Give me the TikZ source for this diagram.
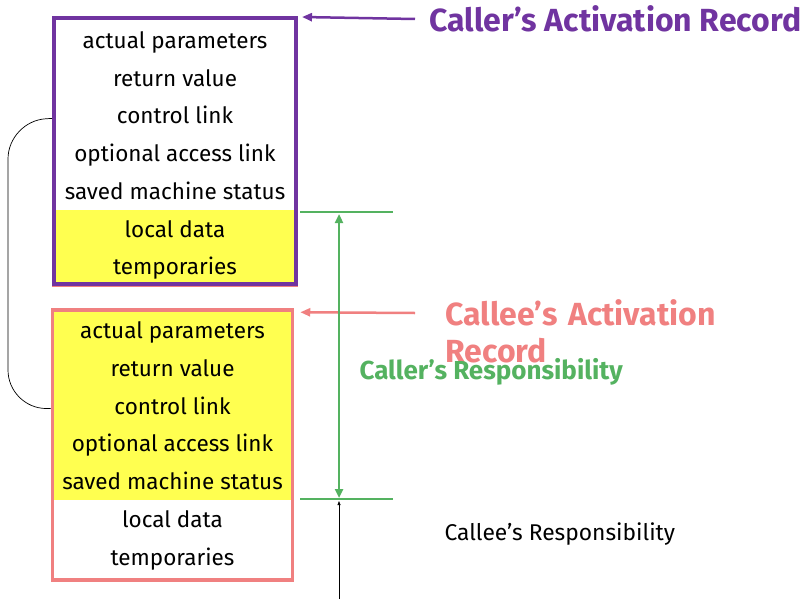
\documentclass[tikz,border=0pt]{standalone}
\usepackage{fontspec}
\setmainfont{Fira Sans}
\usetikzlibrary{arrows.meta,calc}
\definecolor{recpurple}{RGB}{112,52,160}
\definecolor{recpink}{RGB}{240,128,128}
\definecolor{resgreen}{RGB}{84,178,96}
\definecolor{slotyellow}{RGB}{255,255,80}

\begin{document}
\begin{tikzpicture}[x=1pt,y=-1pt,
  slot/.style={font=\fontsize{22.5}{26}\selectfont, anchor=center, text height=15pt, text depth=4pt},
  recbox/.style={draw, line width=4pt, minimum width=#1, inner sep=0pt},
  arrtip/.style={-{Triangle[length=10pt,width=8pt]}},
  biglabel/.style={font=\fontsize{32}{37}\selectfont\bfseries, anchor=west, align=left}]
\useasboundingbox (0,0) rectangle (802,599);

% yellow parts of the two records
\fill[slotyellow] (55,210) rectangle (294,284);
\fill[slotyellow] (54,311) rectangle (291,500);

% the two records
\node[recbox=243pt, minimum height=267pt, draw=recpink, line width=3pt] at (175,152) {};
\node[recbox=242pt, minimum height=266pt, draw=recpurple] (caller) at (175,151) {};
\node[recbox=240pt, minimum height=270pt, draw=recpink, line width=3.5pt] (callee) at (172.5,445) {};

% slots of the records
\foreach \txt [count=\i] in {actual parameters,return value,control link,optional access link,saved machine status,local data,temporaries}{
  \node[slot] (cr\i) at (175,43+37.7*\i-37.7) {\txt};
  \node[slot] (ce\i) at (172.5,333+37.8*\i-37.8) {\txt};
}

% control link
\draw[rounded corners=38pt, line width=0.7pt] (caller.west |- cr3) -- (8,121) -- (8,408) -- (callee.west |- ce3);

% labels of the records
\node[biglabel, text=recpurple] (callerlbl) at (426,19) {Caller’s Activation Record};
\node[biglabel, text=recpink, text width=330pt] (calleelbl) at (442,331) {Callee’s Activation\\Record};
\draw[recpurple, line width=2.5pt, arrtip] (callerlbl.west) ++(-11,0) -- ($(caller.north east)+(4,1)$);
\draw[recpink, line width=2.5pt, arrtip] (415,313) -- ($(callee.north east)+(6,4)$);

% responsibilities
\coordinate (g1) at (300,212);
\coordinate (g2) at (393,212);
\coordinate (g3) at (300,499);
\coordinate (g4) at (393,499);
\coordinate (gtop) at (339,214);
\coordinate (gbot) at (339,498);
\coordinate (floor) at (339,599);
\draw[resgreen, line width=2.5pt] (g1) -- (g2);
\draw[resgreen, line width=2.5pt] (g3) -- (g4);
\draw[resgreen, line width=2.5pt, {Triangle[length=9pt,width=8pt]}-{Triangle[length=9pt,width=8pt]}] (gtop) -- (gbot);
\draw[line width=0.7pt, -{Triangle[length=4pt,width=3pt]}] (floor) -- (339,501);

\node[font=\fontsize{26}{30}\selectfont\bfseries, text=resgreen, anchor=west] (callerres) at (356,372) {Caller’s Responsibility};
\node[font=\fontsize{22.8}{27}\selectfont, anchor=west] (calleeres) at (441,534) {Callee’s Responsibility};
\end{tikzpicture}
\end{document}
